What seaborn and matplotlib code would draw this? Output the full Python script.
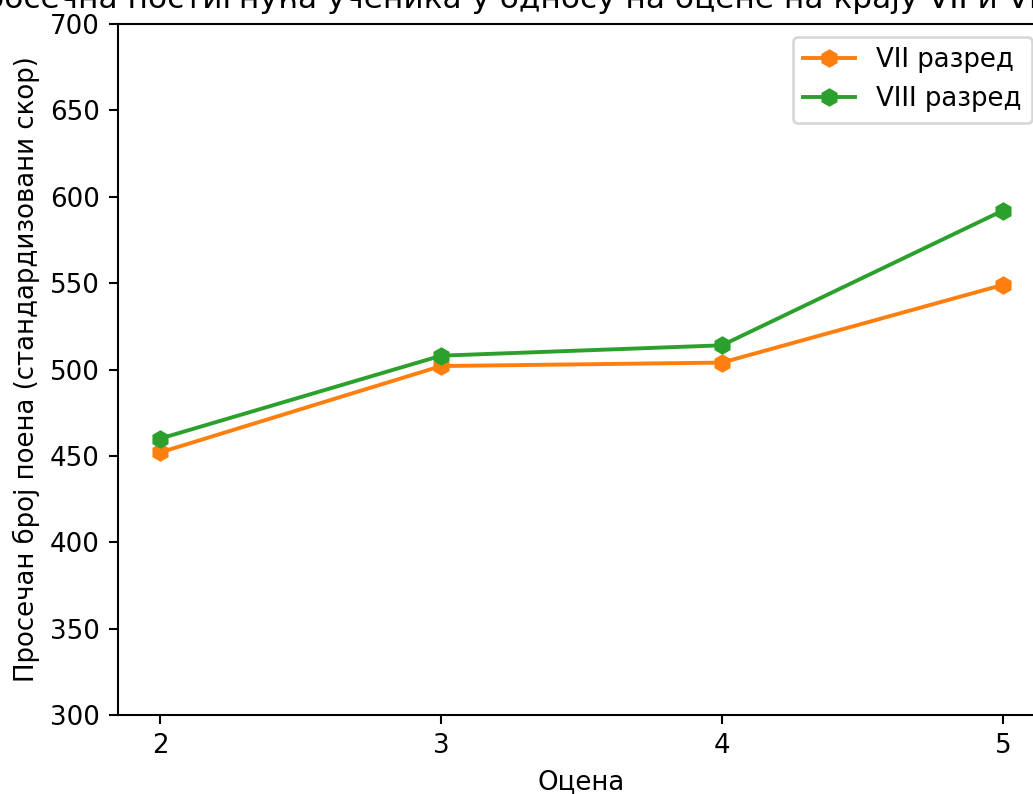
import numpy as np
import pandas as pd
import matplotlib
matplotlib.use("Agg")
import matplotlib.pyplot as plt
import seaborn as sns

# ----------------------------------------------------------
# DATA
# ----------------------------------------------------------
grades = [2, 3, 4, 5]
vii_scores = [452, 502, 504, 549]
viii_scores = [460, 508, 514, 592]
series_names = ["VII разред", "VIII разред"]
series_colors = ["#ff7f0e", "#2ca02c"]

title = "Просечна постигнућа ученика у односу на оцене на крају VII и VIII разреда"
xlabel = "Оцена"
ylabel = "Просечан број поена (стандардизовани скор)"

df = pd.DataFrame({
    "grade": grades * 2,
    "score": vii_scores + viii_scores,
    "series": [series_names[0]] * len(grades) + [series_names[1]] * len(grades),
})

# ----------------------------------------------------------
# PLOT
# ----------------------------------------------------------
DPI = 187
fig = plt.figure(figsize=(1033 / DPI, 794 / DPI), dpi=DPI)
# the reference is a cropped view, so the axes run past the right edge
ax = fig.add_axes([118 / 1033, 79 / 794, 927 / 1033, 691 / 794])

for name, color in zip(series_names, series_colors):
    sub = df[df["series"] == name]
    sns.lineplot(data=sub, x="grade", y="score", ax=ax, color=color,
                 marker="h", markersize=6, markeredgecolor=color,
                 markeredgewidth=1, linewidth=1.5, label=name)

ax.set_ylim(300, 700)
ax.set_xticks(grades)
ax.set_title(title)
ax.set_xlabel(xlabel)
ax.set_ylabel(ylabel)
ax.legend(loc="upper right")

fig.savefig("out.png", dpi=DPI)
plt.close(fig)
